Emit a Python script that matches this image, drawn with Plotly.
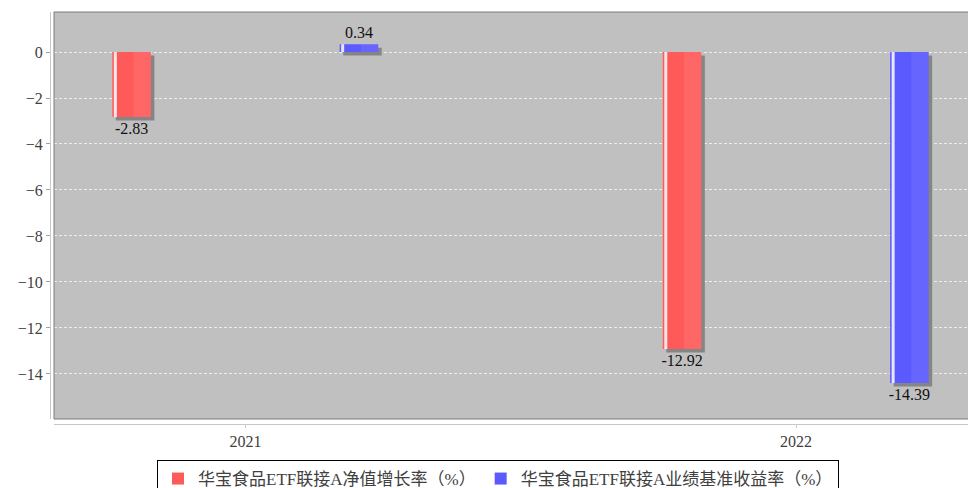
import plotly.graph_objects as go

categories = ["2021", "2022"]
series_names = ["华宝食品ETF联接A净值增长率（%）", "华宝食品ETF联接A业绩基准收益率（%）"]
nav_growth = [-2.83, -12.92]
benchmark = [0.34, -14.39]
y_ticks = [0, -2, -4, -6, -8, -10, -12, -14]

colors = ["#FF5A5A", "#5A5AFF"]
offsets = [-0.207, 0.206]
bar_w = 0.070
px_x = 1 / 550.5   # x units per pixel
px_y = 1 / 23.0    # y units per pixel

# page has an 8px body margin, so the figure is 8px smaller and shifted
W, H = 968, 480
ml, mr, mt, mb = 42, 0, 4, 64
pw = W - ml - mr
ph = H - mt - mb

xs = list(range(len(categories)))
fig = go.Figure()
font_num = "SimSun, Liberation Serif, Noto Sans CJK SC"

for vals, name, col, off in zip([nav_growth, benchmark], series_names, colors, offsets):
    # shadow
    fig.add_trace(go.Bar(
        x=xs, y=vals, base=-3.5 * px_y, width=bar_w,
        offset=off - bar_w / 2 + 3.5 * px_x,
        marker=dict(color="#858585", line=dict(width=0)),
        showlegend=False, hoverinfo="skip",
    ))
    # main bar
    fig.add_trace(go.Bar(
        x=xs, y=vals, width=bar_w, offset=off - bar_w / 2, name=name,
        marker=dict(color=col, line=dict(width=0)),
        text=[f"{v:.2f}" for v in vals], textposition="outside",
        textfont=dict(family=font_num, size=16, color="#111111"),
        constraintext="none", cliponaxis=False,
    ))
    # lighter right part (gradient feel)
    fig.add_trace(go.Bar(
        x=xs, y=vals, width=bar_w * 0.45, offset=off + bar_w * 0.05,
        marker=dict(color="rgba(255,255,255,0.08)", line=dict(width=0)),
        showlegend=False, hoverinfo="skip",
    ))
    # highlight stripe
    fig.add_trace(go.Bar(
        x=xs, y=vals, width=3 * px_x, offset=off - bar_w / 2 + 1.5 * px_x,
        marker=dict(color="rgba(255,255,255,0.85)", line=dict(width=0)),
        showlegend=False, hoverinfo="skip",
    ))

fig.update_layout(
    width=W, height=H,
    margin=dict(l=ml, r=mr, t=mt, b=mb, autoexpand=False),
    paper_bgcolor="white",
    plot_bgcolor="#C0C0C0",
    barmode="overlay",
    font=dict(family=font_num, size=16, color="#404040"),
    xaxis=dict(
        domain=[4 / pw, 1], anchor="free", position=0,
        range=[-0.348, 1.327],
        tickmode="array", tickvals=xs, ticktext=categories,
        showgrid=False, zeroline=False,
        showline=True, linecolor="#C8C8C8", linewidth=1,
        ticks="outside", ticklen=3, tickcolor="#C8C8C8",
        tickfont=dict(size=16, color="#404040"),
    ),
    yaxis=dict(
        domain=[5 / ph, 1], anchor="free", position=0,
        range=[-15.96, 1.74],
        tickmode="array", tickvals=y_ticks,
        showgrid=True, gridcolor="rgba(255,255,255,0.7)", griddash="3px,2px", gridwidth=1,
        zeroline=False,
        showline=True, linecolor="#C8C8C8", linewidth=1,
        ticks="outside", ticklen=4, tickcolor="#A0A0A0",
        tickfont=dict(size=16, color="#404040"),
    ),
    legend=dict(
        orientation="h", x=(490 - ml) / pw, xanchor="center",
        y=-(452 - (H - mb)) / ph, yanchor="top",
        bordercolor="#000000", borderwidth=1, bgcolor="white",
        font=dict(family=font_num, size=17, color="#404040"),
        traceorder="normal", itemwidth=30,
    ),
    showlegend=True,
)

border = dict(color="#7A7A7A", width=1)
fig.add_shape(type="line", xref="x domain", yref="y domain", x0=0, x1=1, y0=1, y1=1, line=border)
fig.add_shape(type="line", xref="x domain", yref="y domain", x0=0, x1=1, y0=0, y1=0, line=border)
fig.add_shape(type="line", xref="x domain", yref="y domain", x0=0, x1=0, y0=0, y1=1, line=border)

fig.write_html("out.html")
